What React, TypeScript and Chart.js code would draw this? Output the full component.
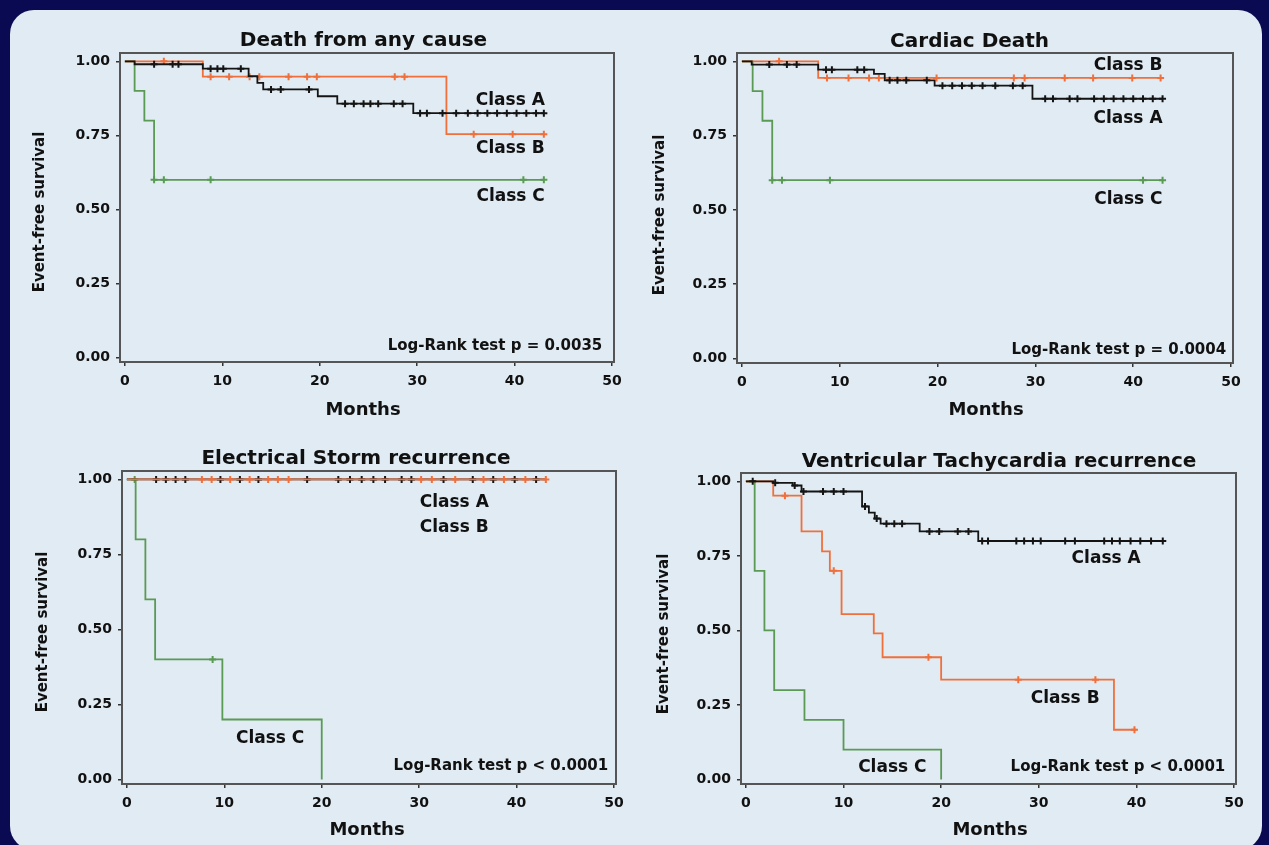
import React, { useEffect, useRef } from 'react';
import { Chart, registerables } from 'chart.js';

Chart.register(...registerables);

// ---------- axis ticks ----------
const xTicks = [0, 10, 20, 30, 40, 50];
const yTicks = [0, 0.25, 0.5, 0.75, 1];
const yTickLabels = ['0.00', '0.25', '0.50', '0.75', '1.00'];

// ---------- Death from any cause ----------
const deathA_t = [0, 1, 8, 12.7, 13.6, 14.2, 19.8, 21.8, 29.6, 43];
const deathA_s = [1, 0.99, 0.975, 0.95, 0.927, 0.905, 0.882, 0.857, 0.825, 0.825];
const deathA_cens = [3, 4.9, 5.5, 8.8, 9.5, 10.1, 11.9, 15, 16, 18.9, 22.6, 23.5, 24.5, 25.2, 26, 27.6, 28.5, 30.3, 31, 32.6, 34, 35.2, 36.2, 37.2, 38.2, 39.2, 40.2, 41.2, 42.2, 43];
const deathB_t = [0, 8, 33, 43];
const deathB_s = [1, 0.948, 0.754, 0.754];
const deathB_cens = [4, 8.8, 10.7, 12.8, 13.8, 16.8, 18.7, 19.7, 27.7, 28.7, 35.8, 39.8, 43];
const deathC_t = [0, 1, 2, 3, 43];
const deathC_s = [1, 0.9, 0.8, 0.6, 0.6];
const deathC_cens = [3, 4, 8.8, 40.9, 43];

// ---------- Cardiac Death ----------
const cardA_t = [0, 1, 7.8, 13.5, 14.6, 19.7, 29.7, 43];
const cardA_s = [1, 0.989, 0.972, 0.958, 0.936, 0.918, 0.874, 0.874];
const cardA_cens = [2.8, 4.6, 5.6, 8.6, 9.2, 11.8, 12.5, 15.1, 15.9, 16.8, 18.9, 20.5, 21.5, 22.5, 23.5, 24.6, 25.9, 27.7, 28.7, 31, 31.8, 33.5, 34.3, 36, 37, 38, 39, 40, 41, 42, 43];
const cardB_t = [0, 7.8, 43];
const cardB_s = [1, 0.944, 0.944];
const cardB_cens = [3.8, 8.7, 10.9, 13, 14, 19.9, 27.8, 28.9, 33, 35.9, 39.9, 42.8];
const cardC_t = [0, 1.1, 2.1, 3.1, 43];
const cardC_s = [1, 0.9, 0.8, 0.6, 0.6];
const cardC_cens = [3.1, 4.1, 9, 41, 43];

// ---------- Electrical Storm recurrence ----------
const stormA_t = [0, 43];
const stormA_s = [1, 1];
const stormA_cens = [3, 4, 5, 6, 9.6, 11.6, 13.5, 18.5, 21.7, 22.9, 24.1, 25.3, 26.5, 28.2, 29.2, 32.5, 35.5, 37.6, 39.8, 42];
const stormB_t = [0, 43];
const stormB_s = [1, 1];
const stormB_cens = [7.7, 8.7, 10.6, 12.6, 14.5, 15.5, 16.6, 30.2, 31.3, 33.7, 36.6, 38.7, 40.9, 43];
const stormC_t = [0, 0.9, 1.9, 2.9, 9.8, 20];
const stormC_s = [1, 0.8, 0.6, 0.4, 0.2, 0];
const stormC_cens = [0.8, 8.8];

// ---------- Ventricular Tachycardia recurrence ----------
const vtA_t = [0, 2.8, 4.8, 5.7, 11.9, 12.6, 13.2, 13.8, 17.8, 23.8, 43];
const vtA_s = [1, 0.995, 0.986, 0.966, 0.916, 0.895, 0.875, 0.858, 0.832, 0.8, 0.8];
const vtA_cens = [0.7, 3, 5, 5.9, 7.9, 9, 10, 12.2, 13.4, 14.4, 15.2, 16, 18.8, 19.8, 21.7, 22.8, 24.2, 24.8, 27.7, 28.5, 29.4, 30.2, 32.7, 33.7, 36.7, 37.5, 38.3, 39.4, 40.4, 41.5, 42.7];
const vtB_t = [0, 2.8, 5.7, 7.8, 8.6, 9.8, 13.1, 14, 20, 37.7, 40];
const vtB_s = [1, 0.952, 0.832, 0.765, 0.7, 0.555, 0.49, 0.41, 0.335, 0.167, 0.167];
const vtB_cens = [4, 9, 18.7, 27.9, 35.8, 39.8];
const vtC_t = [0, 0.9, 1.9, 2.9, 6, 10, 20];
const vtC_s = [1, 0.7, 0.5, 0.3, 0.2, 0.1, 0];
const vtC_cens: number[] = [];

// ---------- styles ----------
const FONT = "'DejaVu Sans', 'Liberation Sans', Arial, sans-serif";
const BLACK = '#141414';
const ORANGE = '#f0703c';
const GREEN = '#5a9a54';
const TEXT = '#111111';
const FRAME = '#555555';
const NAVY = '#0a0a52';
const PANEL = '#e0ebf3';

const X_MIN = -0.5;
const X_MAX = 50.2;
const Y_MIN = -0.015;
const Y_MAX = 1.028;

type Series = { t: number[]; s: number[]; c: number[]; color: string; order: number };
type Label = { text: string; x: number; y: number; align: CanvasTextAlign };
type PanelCfg = {
  key: string;
  canvas: { left: number; top: number; width: number; height: number };
  area: { L: number; T: number; R: number; B: number };
  title: string;
  titleAt: [number, number];
  monthsAt: [number, number];
  yLabelAt: [number, number];
  series: Series[];
  labels: Label[];
};

const panels: PanelCfg[] = [
  {
    key: 'death',
    canvas: { left: 12, top: 12, width: 620, height: 426 },
    area: { L: 120, T: 53, R: 614, B: 362 },
    title: 'Death from any cause',
    titleAt: [363.5, 38.5],
    monthsAt: [363, 408],
    yLabelAt: [40, 212],
    series: [
      { t: deathA_t, s: deathA_s, c: deathA_cens, color: BLACK, order: 0 },
      { t: deathB_t, s: deathB_s, c: deathB_cens, color: ORANGE, order: 1 },
      { t: deathC_t, s: deathC_s, c: deathC_cens, color: GREEN, order: 2 },
    ],
    labels: [
      { text: 'Class A', x: 43.1, y: 0.875, align: 'right' },
      { text: 'Class B', x: 43.1, y: 0.71, align: 'right' },
      { text: 'Class C', x: 43.1, y: 0.548, align: 'right' },
      { text: 'Log-Rank test p = 0.0035', x: 49, y: 0.045, align: 'right' },
    ],
  },
  {
    key: 'cardiac',
    canvas: { left: 634, top: 12, width: 626, height: 426 },
    area: { L: 737, T: 53, R: 1233, B: 363 },
    title: 'Cardiac Death',
    titleAt: [969.6, 40],
    monthsAt: [986, 408],
    yLabelAt: [660, 215],
    series: [
      { t: cardA_t, s: cardA_s, c: cardA_cens, color: BLACK, order: 0 },
      { t: cardB_t, s: cardB_s, c: cardB_cens, color: ORANGE, order: 1 },
      { t: cardC_t, s: cardC_s, c: cardC_cens, color: GREEN, order: 2 },
    ],
    labels: [
      { text: 'Class B', x: 43, y: 0.99, align: 'right' },
      { text: 'Class A', x: 43, y: 0.815, align: 'right' },
      { text: 'Class C', x: 43, y: 0.54, align: 'right' },
      { text: 'Log-Rank test p = 0.0004', x: 49.5, y: 0.035, align: 'right' },
    ],
  },
  {
    key: 'storm',
    canvas: { left: 12, top: 438, width: 620, height: 407 },
    area: { L: 122, T: 471, R: 616, B: 784 },
    title: 'Electrical Storm recurrence',
    titleAt: [356, 456.5],
    monthsAt: [367, 828],
    yLabelAt: [43, 632],
    series: [
      { t: stormB_t, s: stormB_s, c: stormB_cens, color: ORANGE, order: 0 },
      { t: stormA_t, s: stormA_s, c: stormA_cens, color: BLACK, order: 1 },
      { t: stormC_t, s: stormC_s, c: stormC_cens, color: GREEN, order: 2 },
    ],
    labels: [
      { text: 'Class A', x: 33.6, y: 0.93, align: 'center' },
      { text: 'Class B', x: 33.6, y: 0.847, align: 'center' },
      { text: 'Class C', x: 14.7, y: 0.143, align: 'center' },
      { text: 'Log-Rank test p < 0.0001', x: 49.4, y: 0.05, align: 'right' },
    ],
  },
  {
    key: 'vt',
    canvas: { left: 634, top: 438, width: 626, height: 407 },
    area: { L: 741, T: 473, R: 1236, B: 784 },
    title: 'Ventricular Tachycardia recurrence',
    titleAt: [999, 460],
    monthsAt: [990, 828],
    yLabelAt: [664, 634],
    series: [
      { t: vtA_t, s: vtA_s, c: vtA_cens, color: BLACK, order: 0 },
      { t: vtB_t, s: vtB_s, c: vtB_cens, color: ORANGE, order: 1 },
      { t: vtC_t, s: vtC_s, c: vtC_cens, color: GREEN, order: 2 },
    ],
    labels: [
      { text: 'Class A', x: 36.9, y: 0.748, align: 'center' },
      { text: 'Class B', x: 32.7, y: 0.276, align: 'center' },
      { text: 'Class C', x: 15, y: 0.046, align: 'center' },
      { text: 'Log-Rank test p < 0.0001', x: 49.1, y: 0.046, align: 'right' },
    ],
  },
];

// survival value of a Kaplan-Meier step curve at time x (used to place censor marks)
function stepAt(t: number[], s: number[], x: number) {
  let v = s[0];
  for (let i = 0; i < t.length; i++) if (t[i] <= x) v = s[i];
  return v;
}

function drawCapText(ctx: CanvasRenderingContext2D, text: string, x: number, capCenterY: number, size: number, align: CanvasTextAlign) {
  ctx.font = `bold ${size}px ${FONT}`;
  ctx.fillStyle = TEXT;
  ctx.textAlign = align;
  ctx.textBaseline = 'alphabetic';
  ctx.fillText(text, x, capCenterY + size * 0.365);
}

function KMChart({ p }: { p: PanelCfg }) {
  const ref = useRef<HTMLCanvasElement>(null);
  const cv = p.canvas;

  useEffect(() => {
    const canvas = ref.current;
    if (!canvas) return;
    const Wy = 60;
    const Hx = 30;
    const a = p.area;

    const datasets: any[] = [];
    p.series.forEach((se) => {
      datasets.push({
        data: se.t.map((t, i) => ({ x: t, y: se.s[i] })),
        borderColor: se.color,
        backgroundColor: se.color,
        borderWidth: 1.8,
        pointRadius: 0,
        stepped: 'before',
        fill: false,
        order: se.order,
      });
      datasets.push({
        data: se.c.map((t) => ({ x: t, y: stepAt(se.t, se.s, t) })),
        borderColor: se.color,
        backgroundColor: se.color,
        showLine: false,
        pointStyle: 'cross',
        pointRadius: 3.5,
        pointBorderWidth: 2,
        borderWidth: 2,
        order: se.order,
      });
    });

    const plugin = {
      id: 'kmDecor',
      afterDatasetsDraw(chart: any) {
        const ctx = chart.ctx as CanvasRenderingContext2D;
        const ca = chart.chartArea;
        ctx.save();
        ctx.strokeStyle = FRAME;
        ctx.lineWidth = 2;
        ctx.strokeRect(ca.left, ca.top, ca.right - ca.left, ca.bottom - ca.top);
        ctx.restore();
      },
      afterDraw(chart: any) {
        const ctx = chart.ctx as CanvasRenderingContext2D;
        const xs = chart.scales.x;
        const ys = chart.scales.y;
        ctx.save();
        drawCapText(ctx, p.title, p.titleAt[0] - cv.left, p.titleAt[1] - cv.top, 20, 'center');
        drawCapText(ctx, 'Months', p.monthsAt[0] - cv.left, p.monthsAt[1] - cv.top, 18, 'center');
        p.labels.forEach((l) => {
          const size = l.text.startsWith('Log') ? 15 : 17;
          drawCapText(ctx, l.text, xs.getPixelForValue(l.x), ys.getPixelForValue(l.y), size, l.align);
        });
        ctx.translate(p.yLabelAt[0] - cv.left, p.yLabelAt[1] - cv.top);
        ctx.rotate(-Math.PI / 2);
        ctx.font = `bold 15px ${FONT}`;
        ctx.fillStyle = TEXT;
        ctx.textAlign = 'center';
        ctx.textBaseline = 'middle';
        ctx.fillText('Event-free survival', 0, 0);
        ctx.restore();
      },
    };

    const tickFont = { family: FONT, size: 14, weight: 'bold' as const };

    const chart = new Chart(canvas, {
      type: 'line',
      data: { datasets },
      options: {
        responsive: false,
        animation: false,
        devicePixelRatio: 1,
        layout: {
          padding: {
            left: a.L - cv.left - Wy,
            right: cv.left + cv.width - a.R,
            top: a.T - cv.top,
            bottom: cv.top + cv.height - a.B - Hx,
          },
        },
        plugins: { legend: { display: false }, tooltip: { enabled: false } },
        scales: {
          x: {
            type: 'linear',
            min: X_MIN,
            max: X_MAX,
            afterBuildTicks: (axis: any) => {
              axis.ticks = xTicks.map((v) => ({ value: v }));
            },
            afterFit: (s: any) => {
              s.height = Hx;
            },
            ticks: { font: tickFont, color: TEXT, padding: 7, autoSkip: false, maxRotation: 0, callback: (v: any) => String(v) },
            grid: { display: true, drawOnChartArea: false, drawTicks: true, tickLength: 4, color: '#333', lineWidth: 1.5 },
            border: { display: false },
          },
          y: {
            type: 'linear',
            min: Y_MIN,
            max: Y_MAX,
            afterBuildTicks: (axis: any) => {
              axis.ticks = yTicks.map((v) => ({ value: v }));
            },
            afterFit: (s: any) => {
              s.width = Wy;
            },
            ticks: {
              font: tickFont,
              color: TEXT,
              padding: 6,
              autoSkip: false,
              callback: (v: any) => {
                const i = yTicks.indexOf(Number(v));
                return i >= 0 ? yTickLabels[i] : '';
              },
            },
            grid: { display: true, drawOnChartArea: false, drawTicks: true, tickLength: 4, color: '#333', lineWidth: 1.5 },
            border: { display: false },
          },
        },
      } as any,
      plugins: [plugin],
    });
    return () => chart.destroy();
  }, []);

  return (
    <canvas
      ref={ref}
      width={cv.width}
      height={cv.height}
      style={{ position: 'absolute', left: cv.left, top: cv.top, width: cv.width, height: cv.height }}
    />
  );
}

export default function App() {
  return (
    <div style={{ position: 'absolute', left: 0, top: 0, width: 1269, height: 845, background: NAVY, overflow: 'hidden' }}>
      <div
        style={{
          position: 'absolute',
          left: 10,
          top: 10,
          width: 1252,
          height: 840,
          background: PANEL,
          borderRadius: 24,
        }}
      />
      {panels.map((p) => (
        <KMChart key={p.key} p={p} />
      ))}
    </div>
  );
}
